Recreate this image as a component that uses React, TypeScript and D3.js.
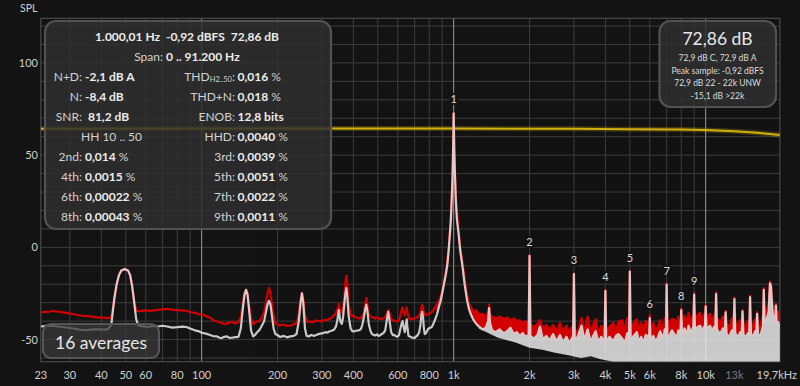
import * as d3 from "d3";

type Pt = [number, number];

// max-hold trace (red)
const peakTrace: Pt[] = [
  [23, -35.3], [24, -35], [25, -34.8], [25.7, -34.5], [27.3, -35], [29.9, -35.8], [31.5, -36.4], [33.6, -37.1],
  [35.5, -37.3], [37.6, -37.8], [40, -38.1], [43, -38.4],
  [44, -37], [45, -28], [46, -20], [47, -15], [48, -12.5], [49.5, -11.8], [51, -12.5], [52, -15], [53, -21], [54, -29], [55, -34.4],
  [57, -34.6], [59.5, -34.2], [62.2, -34.4], [66, -34], [69.5, -33.6], [72.6, -33.3], [76, -33.8], [79, -34], [83, -34.2],
  [87, -34.4], [90.5, -35.2], [94, -35.5], [97.5, -36.3], [101.5, -36.6], [104.5, -37.4], [108, -38], [111, -39.5],
  [114.7, -40.2], [117.5, -40.6], [120.5, -41], [123, -41.6], [125.8, -41.4], [129, -40.6], [132, -40.5], [135.5, -41.2], [139.5, -40.8],
  [143, -38], [146, -30], [148, -25], [150, -23], [152, -25], [154, -31], [157, -38],
  [160, -41.8], [164, -40.5], [167.5, -40.2], [170.7, -39.5], [174, -37.5], [177, -35], [180, -30], [182.5, -25], [185, -22.1],
  [187.5, -25], [190, -31], [193, -37], [196, -41], [198, -41.6], [204, -42.4], [210, -41.8], [217, -42.6], [225, -42.5],
  [231, -41.8], [238, -41],
  [243, -36], [247, -28], [250, -24.8], [253, -28], [257, -37],
  [262, -40.4], [270, -40.2], [278, -40.6], [284, -39.6], [290, -39.8], [298, -40.2], [306, -39.4], [314, -39.3], [322, -38.8],
  [329, -38], [334, -37], [340, -36], [345, -34], [350, -30.8], [355, -35], [362, -35.5], [368, -27], [372, -19], [375, -15.4],
  [378, -19], [383, -30], [389, -36], [394, -37.4], [400, -37], [407, -37.8], [414, -38.2], [421, -38.5], [428, -38.5],
  [434, -37.2], [440, -36], [445, -32], [450, -27.5], [455, -32], [461, -36.5], [467, -37.2], [474, -37.8], [481, -38],
  [488, -38.6], [496, -38], [503, -38.4], [511, -39], [519, -38.6], [527, -38.5], [535, -38], [542, -36], [550, -33.9],
  [557, -36], [565, -39], [573, -39.6], [582, -39.8], [590, -40], [598, -40.2], [606, -39.6], [614, -37], [620, -34.5],
  [627, -32.5], [633, -35.5], [640, -37], [645, -35], [651, -32.5], [657, -36], [664, -38.4], [670, -39], [678, -38.6],
  [688, -38.8], [698, -38.5], [708, -38.2], [718, -38], [728, -37], [738, -35], [745, -32.5], [750, -31.1], [756, -33],
  [763, -36], [770, -37], [778, -36.5], [786, -36.4], [795, -36], [803, -35.8], [810, -35.6], [820, -35], [830, -34],
  [840, -33], [850, -32], [865, -30], [880, -28], [900, -24], [920, -17], [943, -8], [955, 0], [967, 9], [982, 26.5],
  [990, 40], [995, 55], [1000, 72.9], [1005, 55], [1012, 40], [1020, 26.5], [1045, 9], [1062, 0], [1083, -8], [1105, -17],
  [1125, -24], [1145, -30], [1170, -32.5], [1200, -35], [1230, -34], [1260, -36.5], [1300, -36], [1340, -37.5],
  [1370, -35], [1382, -31], [1395, -36], [1420, -37.5], [1470, -38.5], [1520, -37.5], [1580, -39], [1630, -38],
  [1680, -39.5], [1730, -38.5], [1780, -40], [1830, -39.5], [1880, -41], [1930, -40], [1984, -41.5], [2000, -4.2],
  [2016, -41.5], [2080, -43.5], [2150, -41.5], [2200, -39.5], [2260, -44.5], [2330, -42], [2400, -45], [2480, -42],
  [2560, -45.5], [2640, -41], [2720, -46], [2800, -42.5], [2880, -46.5], [2950, -43], [2976, -45], [3000, -14],
  [3024, -45], [3100, -46], [3220, -38.4], [3300, -45.5], [3400, -37.5], [3500, -46], [3580, -42], [3660, -39],
  [3750, -46.5], [3850, -42.5], [3968, -46], [4000, -23.2], [4032, -46], [4150, -43], [4300, -41], [4400, -46],
  [4500, -40.5], [4670, -39.5], [4750, -45.5], [4890, -38.3], [4960, -45], [5000, -12.7], [5040, -45], [5150, -41.5],
  [5330, -39], [5450, -46], [5550, -41], [5660, -45.5], [5780, -40], [5880, -41], [5955, -45], [6000, -36.6],
  [6045, -45], [6200, -41], [6350, -46], [6470, -42.5], [6600, -39.5], [6750, -45], [6880, -38.4], [6950, -43],
  [7000, -19.4], [7050, -42], [7200, -40.5], [7350, -38.8], [7540, -39.3], [7650, -43], [7780, -37.5], [7900, -42],
  [7940, -40], [8000, -33], [8060, -41], [8250, -37], [8400, -42], [8550, -35.5], [8750, -41], [8900, -37], [8930, -38],
  [9000, -24.8], [9070, -39], [9300, -36.5], [9500, -35.6], [9700, -40], [9850, -36], [9925, -37], [10000, -31.1],
  [10080, -38], [10400, -36], [10600, -40.5], [10800, -36.5], [10920, -38], [11000, -24.5], [11080, -38], [11400, -41.5],
  [11700, -37.5], [11900, -41], [12000, -34.4], [12100, -41], [12400, -43.5], [12700, -38.5], [12900, -42],
  [13000, -27.2], [13100, -40], [13450, -44], [13700, -39.5], [13890, -43], [14000, -33.9], [14110, -41],
  [14400, -44], [14700, -40], [14880, -43], [15000, -26.3], [15120, -40], [15400, -44], [15700, -39], [15870, -42.5],
  [16000, -35.1], [16130, -42], [16500, -43], [16800, -37.5], [16870, -40], [17000, -22.1], [17130, -36],
  [17500, -33], [17800, -30], [17900, -22], [18000, -18.5], [18150, -20], [18400, -30], [18700, -36], [18900, -33],
  [19000, -30.8], [19150, -38], [19400, -35], [19700, -38],
];

// averaged trace (white)
const avgTrace: Pt[] = [
  [23, -42.9], [24.2, -42.6], [25.5, -42.5], [26.8, -42.9], [28, -43.2], [29.5, -43.6], [31, -44], [33, -44.7], [35, -44.9],
  [37, -44.5], [39, -44.4], [41, -44.6], [42.5, -44.3], [43.8, -42],
  [45, -28], [46, -20], [47, -15], [48, -12.5], [49.5, -11.8], [51, -12.5], [52, -15], [53, -21], [54, -30], [55, -39], [56, -42.3],
  [58, -42.7], [61, -43.2], [64, -42.6], [67, -42.9], [70, -42.5], [73, -42.9], [76.5, -43.5], [80, -43.3], [84, -43],
  [87, -43.2], [90.5, -44.1], [94, -45], [97, -45.4], [100, -46.3], [104, -46.8], [108, -47.5], [111.5, -48.2], [115, -48.3],
  [118, -49], [120, -49.2], [123, -48.5], [126, -48.3], [129, -49.1], [132, -49], [136, -48.7], [140, -48.5],
  [143, -44], [146, -32], [148, -25.5], [150, -23], [152, -25.5], [154, -33], [157, -45],
  [160, -48.3], [163, -47.5], [166, -46], [169, -45], [171.5, -43.6], [174, -42], [177, -40], [180, -35], [182.5, -31],
  [185, -29], [187.5, -31], [190, -37], [193, -44], [196, -47], [199, -47.4], [205, -48.6], [212, -48], [218, -48.8],
  [225, -48.3], [232, -48], [238, -47],
  [243, -40], [247, -30], [250, -25], [253, -30], [257, -44],
  [261, -48], [266, -48.3], [272, -47.5], [280, -48], [288, -47.2], [296, -46.8], [303, -46.5], [310, -46], [316, -46.2],
  [322, -45.5], [328, -45.2], [335, -44.7], [341, -43], [345, -40], [350, -34], [355, -40], [360, -41.5], [364, -38],
  [368, -31], [372, -25], [375, -22.1], [378, -26], [383, -37], [390, -44], [396, -45.4], [402, -45.6], [410, -45.2],
  [420, -45], [428, -44.4], [434, -42], [440, -38], [445, -34], [450, -31.1], [455, -35], [461, -42], [468, -45.5],
  [474, -47], [480, -47.4], [488, -47.8], [496, -47.2], [503, -48], [511, -47.6], [519, -47], [527, -46.4], [535, -45],
  [542, -40], [550, -35], [557, -40], [565, -46], [574, -47.6], [582, -47.5], [590, -48.2], [598, -48.5], [607, -47.5],
  [615, -44], [621, -41.5], [627, -40], [633, -43], [640, -46], [645, -43], [651, -39], [656, -44], [662, -48], [670, -48.3],
  [680, -48.8], [690, -49], [698, -49.2], [708, -48.4], [718, -47.8], [730, -46], [738, -42], [744, -37], [750, -35],
  [756, -38], [762, -44], [768, -47], [776, -46.5], [784, -45.4], [790, -44.5], [800, -43.8], [810, -43.6], [820, -43],
  [830, -41.5], [845, -39], [860, -36], [875, -32], [890, -28.4], [915, -20], [930, -15], [943, -10], [955, -2], [967, 8],
  [975, 15], [982, 25.7], [990, 39], [995, 54], [1000, 72.7], [1005, 54], [1012, 39], [1020, 25.7], [1030, 15], [1045, 8],
  [1062, -2], [1083, -10], [1105, -20], [1129, -28.4], [1150, -33.5], [1175, -37], [1200, -39.5], [1230, -41.5],
  [1258, -42.9], [1300, -44.5], [1340, -43.6], [1370, -40], [1382, -33], [1395, -41], [1420, -45], [1470, -46],
  [1520, -44.5], [1580, -46.6], [1630, -45.4], [1680, -43.6], [1730, -47], [1780, -46], [1830, -48], [1880, -46.5],
  [1930, -48.5], [1984, -47.5], [2000, -4.6], [2016, -48], [2080, -49.5], [2150, -47.5], [2200, -43], [2260, -50],
  [2330, -48], [2400, -50.5], [2480, -47], [2560, -51], [2640, -47.5], [2720, -51.5], [2800, -48.5], [2880, -52],
  [2950, -49], [2976, -50.5], [3000, -14.5], [3024, -50.5], [3100, -48.5], [3220, -42.5], [3300, -50.5], [3400, -44.5],
  [3500, -51.5], [3580, -48], [3660, -45.5], [3750, -51.5], [3850, -48.5], [3968, -52], [4000, -23.6], [4032, -52],
  [4150, -48.5], [4300, -51], [4400, -48], [4500, -47], [4670, -49.5], [4750, -52.5], [4890, -46.5], [4960, -51.5],
  [5000, -13.1], [5040, -51.5], [5150, -48.5], [5330, -46], [5450, -51.5], [5550, -48.5], [5660, -52], [5780, -47.5],
  [5880, -48], [5955, -50.5], [6000, -38.4], [6045, -50.5], [6200, -48], [6350, -51.5], [6470, -48.5], [6600, -45.5],
  [6750, -50], [6880, -44.5], [6950, -49.5], [7000, -20.2], [7050, -49.5], [7200, -47.5], [7350, -45], [7540, -47.5],
  [7650, -50], [7780, -45], [7900, -48.5], [7940, -47], [8000, -34], [8060, -47.5], [8250, -44], [8400, -48],
  [8550, -42.5], [8750, -46.5], [8900, -43.5], [8930, -44], [9000, -25.6], [9070, -45.5], [9300, -43], [9500, -42.5],
  [9700, -45.5], [9850, -43], [9925, -43.5], [10000, -32], [10080, -44.5], [10400, -42.5], [10600, -45.5], [10800, -43],
  [10920, -44], [11000, -25.3], [11080, -44.5], [11400, -47], [11700, -44], [11900, -46.5], [12000, -35.2], [12100, -47],
  [12400, -48.5], [12700, -45], [12900, -47.5], [13000, -28], [13100, -46.5], [13450, -49], [13700, -46], [13890, -48],
  [14000, -34.7], [14110, -47], [14400, -49], [14700, -46.5], [14880, -48], [15000, -27], [15120, -46.5], [15400, -49],
  [15700, -45.5], [15870, -47.5], [16000, -36], [16130, -47], [16500, -48], [16800, -43.5], [16870, -45.5], [17000, -23],
  [17130, -41.5], [17500, -38.5], [17800, -34.5], [17900, -25.5], [18000, -19.5], [18150, -21], [18400, -34.5],
  [18700, -41.5], [18900, -38.5], [19000, -31.6], [19150, -43.5], [19400, -40.5], [19700, -43.5],
];

// lower edge of the dense averaged band at high frequencies
const avgFloor: Pt[] = [
  [1258, -44], [1500, -49], [1750, -51.5], [2000, -54.5], [2250, -55.5], [2500, -57], [2850, -58.5], [3200, -60],
  [3500, -59], [3800, -60.5], [4300, -62], [19700, -62],
];

// reference level curve (yellow)
const refCurve: Pt[] = [
  [23, 64.3], [100, 64.4], [1000, 64.4], [3000, 64.3], [5000, 64.1], [8000, 63.9], [10000, 63.6], [13000, 62.9],
  [16000, 62.1], [19700, 60.9],
];

const harmonicFreqs = [1000, 2000, 3000, 4000, 5000, 6000, 7000, 8000, 9000];
const harmonicLevels = [72.86, -4.6, -14.5, -23.6, -13.1, -38.4, -20.2, -34, -25.6];

const xTickValues = [23, 30, 40, 50, 60, 80, 100, 200, 300, 400, 600, 800, 1000, 2000, 3000, 4000, 5000, 6000, 8000, 10000, 13000, 19700];
const xTickLabels = ["23", "30", "40", "50", "60", "80", "100", "200", "300", "400", "600", "800", "1k", "2k", "3k", "4k", "5k", "6k", "8k", "10k", "13k", "19,7kHz"];
const yTickValues = [100, 50, 0, -50];

const infoLeft = [
  ["N+D:", "-2,1 dB A", ""],
  ["N:", "-8,4 dB", ""],
  ["SNR:", " 81,2 dB", ""],
  ["", "", ""],
  ["2nd:", "0,014", " %"],
  ["4th:", "0,0015", " %"],
  ["6th:", "0,00022", " %"],
  ["8th:", "0,00043", " %"],
];
const infoRight = [
  ["THD", "0,016", " %"],
  ["THD+N:", "0,018", " %"],
  ["ENOB:", "12,8 bits", ""],
  ["HHD:", "0,0040", " %"],
  ["3rd:", "0,0039", " %"],
  ["5th:", "0,0051", " %"],
  ["7th:", "0,0022", " %"],
  ["9th:", "0,0011", " %"],
];
const levelLines = ["72,9 dB C, 72,9 dB A", "Peak sample: -0,92 dBFS", "72,9 dB 22 - 22k UNW", "-15,1 dB >22k"];

const FONT = "Lato, 'Open Sans', sans-serif";
const BG = "#131313";
const RED = "#d20000";
const WHITE = "#e8e8e8";

export default function App() {
  const width = 800;
  const height = 386;
  const left = 40.8;
  const right = 779.9;
  const top = 18.3;
  const bottom = 361.7;

  const x = d3.scaleLog().domain([23, 19700]).range([left, right]);
  const y = d3.scaleLinear().domain([-62, 124.2]).range([bottom, top]);
  const line = d3.line<Pt>().x((d) => x(d[0])).y((d) => y(d[1]));
  const band = (upper: Pt[], lower: Pt[]) => (line(upper.concat(lower.slice().reverse())) ?? "") + "Z";

  const redFill = band(peakTrace.filter((d) => d[0] >= 850), avgTrace.filter((d) => d[0] >= 850));
  const whiteFill = band(avgTrace.filter((d) => d[0] >= 1258), avgFloor);

  const vGrid = x.ticks();
  const hGrid = d3.range(-60, 121, 10);
  const isDecade = (v: number) => Math.abs(Math.log10(v) - Math.round(Math.log10(v))) < 1e-6;

  const labelCol = "#d2d2d2";
  const valueCol = "#ededed";
  const fs = 12;

  return (
    <svg
      width={width}
      height={height}
      style={{ position: "fixed", left: 0, top: 0, display: "block", background: BG }}
      fontFamily={FONT}
    >
      <defs>
        <clipPath id="plot">
          <rect x={left} y={top} width={right - left} height={bottom - top} />
        </clipPath>
      </defs>
      <rect width={width} height={height} fill={BG} />

      {/* grid */}
      <g>
        {hGrid.map((v) => (
          <line key={"h" + v} x1={left} x2={right} y1={y(v)} y2={y(v)} stroke="#3d3d3d" strokeWidth={1} />
        ))}
        {vGrid.map((v) => (
          <line
            key={"v" + v}
            x1={x(v)}
            x2={x(v)}
            y1={top}
            y2={bottom}
            stroke={isDecade(v) ? "#9a9a9a" : "#3d3d3d"}
            strokeWidth={1}
          />
        ))}
        <rect x={left} y={top} width={right - left} height={bottom - top} fill="none" stroke="#4a4a4a" strokeWidth={1.2} />
      </g>

      {/* reference curve */}
      <g clipPath="url(#plot)">
        <path d={line(refCurve) ?? ""} fill="none" stroke="#c9a70c" strokeWidth={5} strokeOpacity={0.25} />
        <path d={line(refCurve) ?? ""} fill="none" stroke="#d2b010" strokeWidth={2} />
      </g>

      {/* spectrum traces */}
      <g clipPath="url(#plot)">
        <path d={redFill} fill={RED} />
        <path d={line(peakTrace) ?? ""} fill="none" stroke={RED} strokeWidth={2.2} strokeLinejoin="round" />
        <g opacity={0.86}>
          <path d={whiteFill} fill={WHITE} />
          <path d={line(avgTrace) ?? ""} fill="none" stroke={WHITE} strokeWidth={2.2} strokeLinejoin="round" />
        </g>
      </g>

      {/* harmonic labels */}
      <g fontSize={11} fill="#dadada" textAnchor="middle">
        {harmonicFreqs.map((f, i) => (
          <g key={"hl" + f}>
            <rect x={x(f) - 4.5} y={y(harmonicLevels[i]) - 20} width={9} height={12} fill={BG} opacity={0.85} />
            <text x={x(f)} y={y(harmonicLevels[i]) - 10}>
              {i + 1}
            </text>
          </g>
        ))}
      </g>

      {/* axes labels */}
      <text x={20} y={12} fontSize={10.5} fill="#d0d0d0">SPL</text>
      <g fontSize={11} fill="#d0d0d0" textAnchor="end">
        {yTickValues.map((v) => (
          <text key={"yt" + v} x={38} y={y(v) + 4}>
            {v}
          </text>
        ))}
      </g>
      <g fontSize={11} textAnchor="middle">
        {xTickValues.map((v, i) => (
          <text
            key={"xt" + v}
            x={i === xTickValues.length - 1 ? 797 : x(v)}
            y={379}
            textAnchor={i === xTickValues.length - 1 ? "end" : "middle"}
            fill={v === 13000 ? "#7a7a7a" : "#d0d0d0"}
          >
            {xTickLabels[i]}
          </text>
        ))}
      </g>

      {/* measurement panel */}
      <g>
        <rect x={45} y={21} width={286} height={208} rx={11} fill="#2f2f2f" fillOpacity={0.84} stroke="#525252" strokeWidth={2.2} />
        <text x={187} y={40.5} fontSize={fs} fontWeight="bold" fill={valueCol} textAnchor="middle" xmlSpace="preserve">
          1.000,01 Hz  -0,92 dBFS  72,86 dB
        </text>
        <text x={187} y={60.5} fontSize={fs} fill={labelCol} textAnchor="middle">
          Span: <tspan fontWeight="bold" fill={valueCol}>0 .. 91.200 Hz</tspan>
        </text>
        {infoLeft.map((r, i) => (
          <g key={"il" + i} fontSize={fs}>
            <text x={82} y={80.5 + i * 20} textAnchor="end" fill={labelCol}>{r[0]}</text>
            <text x={85} y={80.5 + i * 20} fill={valueCol} xmlSpace="preserve">
              <tspan fontWeight="bold">{r[1]}</tspan>
              <tspan fill={labelCol}>{r[2]}</tspan>
            </text>
          </g>
        ))}
        <text x={81} y={140.5} fontSize={fs} fill={labelCol}>HH 10 .. 50</text>
        {infoRight.map((r, i) => (
          <g key={"ir" + i} fontSize={fs}>
            {i === 0 ? (
              <text x={235} y={80.5} textAnchor="end" fill={labelCol}>
                THD<tspan fontSize={7.5} dy={1.5}>H2..50</tspan>
                <tspan dy={-1.5}>:</tspan>
              </text>
            ) : (
              <text x={235} y={80.5 + i * 20} textAnchor="end" fill={labelCol}>{r[0]}</text>
            )}
            <text x={237.5} y={80.5 + i * 20} fill={valueCol}>
              <tspan fontWeight="bold">{r[1]}</tspan>
              <tspan fill={labelCol}>{r[2]}</tspan>
            </text>
          </g>
        ))}
      </g>

      {/* level box */}
      <g>
        <rect x={659.5} y={21} width={116.5} height={86} rx={11} fill="#2f2f2f" fillOpacity={0.84} stroke="#525252" strokeWidth={2.2} />
        <text x={717.5} y={45} fontSize={17.5} fill="#e8e8e8" textAnchor="middle">72,86 dB</text>
        {levelLines.map((t, i) => (
          <text key={"lv" + i} x={717.5} y={61 + i * 12.6} fontSize={8.5} fill="#dcdcdc" textAnchor="middle">
            {t}
          </text>
        ))}
      </g>

      {/* averages box */}
      <g>
        <rect x={43} y={324} width={116} height={34} rx={8} fill="#3a3a3a" fillOpacity={0.75} stroke="#555" strokeWidth={2.2} />
        <text x={101} y={349} fontSize={17.5} fill="#e6e6e6" textAnchor="middle">16 averages</text>
      </g>
    </svg>
  );
}
